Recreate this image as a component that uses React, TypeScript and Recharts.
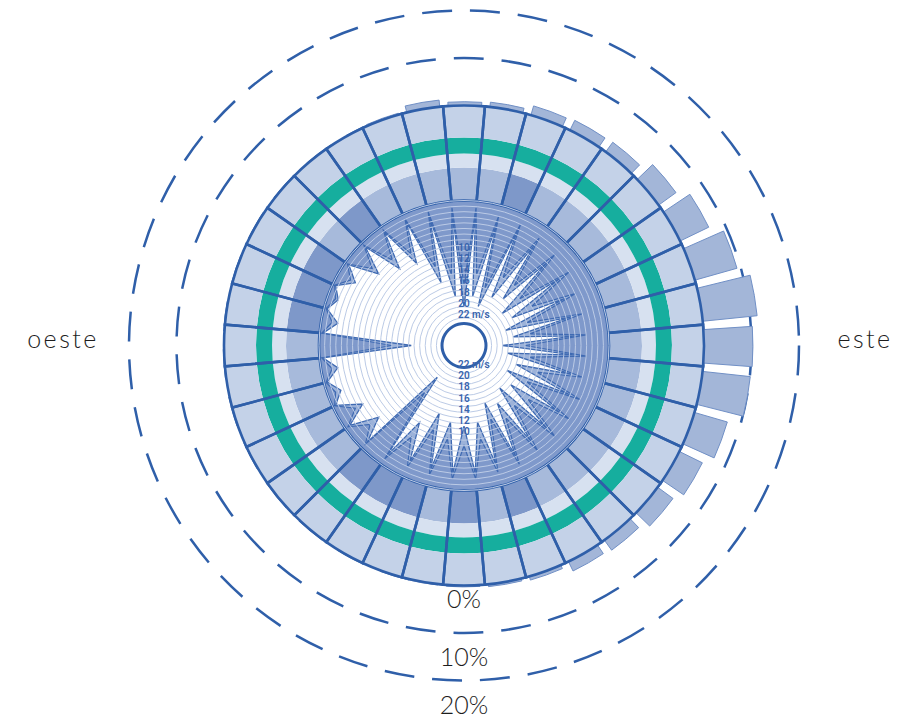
import React from "react";
import {
  RadialBarChart,
  RadialBar,
  PolarGrid,
  PolarAngleAxis,
  PolarRadiusAxis,
  PieChart,
  Pie,
  Cell,
  RadarChart,
  Radar,
} from "recharts";

// wind directions, degrees clockwise from north
const directions = [
  0, 10, 20, 30, 40, 50, 60, 70, 80, 90, 100, 110, 120, 130, 140, 150, 160, 170,
  180, 190, 200, 210, 220, 230, 240, 250, 260, 270, 280, 290, 300, 310, 320, 330, 340, 350,
];

// frequency of each direction (%)
const frequencyPct = [
  0.8, 1.0, 2.0, 2.3, 2.5, 4.5, 6.7, 9.2, 11.5, 10.3, 10.1, 7.2, 5.4, 4.0, 2.6, 2.2, 0.8, 0.5,
  0.3, 0.2, 0, 0, 0, 0, 0, 0, 0, 0, 0, 0, 0, 0, 0, 0, 0.3, 1.4,
];

// shade level of the inner band per direction
const bandLevel = [
  2, 2, 3, 2, 2, 2, 2, 2, 2, 2, 2, 2, 2, 2, 2, 2, 3, 2,
  3, 2, 3, 3, 3, 2, 2, 2, 2, 2, 3, 3, 3, 2, 3, 2, 2, 2,
];

// wind speed at each direction (m/s)
const maxSpeed = [
  19, 17, 18.5, 16, 15, 17, 16, 18, 17, 19, 18, 16, 17, 15, 16, 14, 15, 12,
  11.5, 12, 13, 10, 18.5, 6, 5, 2.5, 3, 16.5, 3, 2, 3.5, 6, 8, 9, 14, 17,
];
const meanSpeed = [
  15, 13, 15, 12, 12, 13, 12, 14, 14, 15, 14, 12, 13, 11, 12, 11, 12, 9,
  8, 9, 10, 7, 15, 4, 3.5, 1.5, 2, 13, 2, 1.5, 2.5, 4.5, 6, 7, 11, 13,
];
// wind speed between two directions (at direction + 5°)
const maxSpeedBetween = [
  2, 3, 3, 4, 5, 5, 6, 6, 6, 6, 6, 5, 5, 5, 5, 4, 4, 3,
  3, 3, 3, 2, 1.5, 1, 0.6, 0.6, 0.6, 0.6, 0.6, 0.6, 0.8, 1, 1.2, 1.5, 2, 2,
];
const meanSpeedBetween = [
  1.2, 2, 2, 2.5, 3, 3, 4, 4, 4, 4, 4, 3, 3, 3, 3, 2.5, 2.5, 2,
  2, 2, 2, 1.2, 1, 0.6, 0.4, 0.4, 0.4, 0.4, 0.4, 0.4, 0.5, 0.6, 0.8, 1, 1.2, 1.2,
];

const pctTicks = [0, 10, 20];
const speedGridTicks = [0, 1, 2, 3, 4, 5, 6, 7, 8, 9, 10, 11, 12, 13, 14, 15, 16, 17, 18, 19, 20, 21, 22];
const speedLabelTicks = [10, 12, 14, 16, 18, 20, 22];
const compassLabels = ["", "este", "", "oeste"];

// ---- tables built from the arrays ----
const barData = directions.map((d, i) => ({ dir: String(d), pct: frequencyPct[i] }));
const ringData = directions.map((d, i) => ({ dir: String(d), one: 1, level: bandLevel[i] }));
const discData = [{ name: "disc", one: 1 }];
const spikeData = directions.flatMap((d, i) => [
  { a: String(d), max: maxSpeed[i], mean: meanSpeed[i] },
  { a: String(d + 5), max: maxSpeedBetween[i], mean: meanSpeedBetween[i] },
]);
const compassData = compassLabels.map((label, i) => ({ id: i, v: 1 }));

// ---- layout / style ----
const W = 908;
const H = 721;
const CX = 464;
const CY = 345.5;
const M = { top: 0, right: 0, bottom: 0, left: 0 };
const DARK = "#2f5fa9";
const TEAL = "#16ae9e";
const CELL = "#c4d2e8";
const LIGHT_BAND = "#d7e1f0";
const SPIKE_DISC = "#7f99cb";
const SPIKE_MID = "#9cb2d9";
const levelColor = (l: number) => (l >= 3 ? "#7e98c9" : l === 2 ? "#a7badb" : "#b9c9e3");

const layer: React.CSSProperties = { position: "absolute", left: 0, top: 0 };

const PctTick = (props: any) => {
  const { x, y, payload } = props;
  const v = payload.value;
  return (
    <text
      x={x}
      y={y + (v === 0 ? 12 : 23)}
      textAnchor="middle"
      dominantBaseline="central"
      fontFamily="Lato, 'Open Sans', sans-serif"
      fontWeight={300}
      fontSize={25}
      fill="#1d1d1d"
    >
      {`${v}%`}
    </text>
  );
};

const speedText = (x: number, y: number, v: number) => (
  <text
    x={v === 22 ? x - 6 : x}
    y={y}
    textAnchor={v === 22 ? "start" : "middle"}
    dominantBaseline="central"
    fontFamily="Roboto, sans-serif"
    fontWeight={600}
    fontSize={10}
    fill="#3864ad"
  >
    {v === 22 ? "22 m/s" : String(v)}
  </text>
);

const TopSpeedTick = (props: any) => {
  const { x, y, payload } = props;
  if (!speedLabelTicks.includes(Number(payload.value))) return <g />;
  return speedText(x, y - 9, Number(payload.value));
};
const BottomSpeedTick = (props: any) => {
  const { x, y, payload } = props;
  if (!speedLabelTicks.includes(Number(payload.value))) return <g />;
  return speedText(x, y - 3, Number(payload.value));
};

const CompassTick = (props: any) => {
  const { x, y, payload } = props;
  const label = compassLabels[payload.value];
  if (!label) return <g />;
  return (
    <text
      x={x}
      y={y + 2}
      textAnchor="middle"
      fontFamily="Lato, 'Open Sans', sans-serif"
      fontWeight={300}
      fontSize={25}
      letterSpacing={2.5}
      fill="#1d1d1d"
    >
      {label}
    </text>
  );
};

export default function App() {
  return (
    <div style={{ position: "absolute", left: 0, top: 0, width: W, height: H, background: "#fff" }}>
      {/* outer frequency bars + dashed % circles */}
      <div style={layer}>
        <RadialBarChart
          width={W}
          height={H}
          cx={CX}
          cy={CY}
          margin={M}
          innerRadius={240}
          outerRadius={335}
          startAngle={85}
          endAngle={-275}
          layout="centric"
          data={barData}
          barCategoryGap="8%"
        >
          <PolarGrid gridType="circle" radialLines={false} stroke={DARK} strokeWidth={2.5} strokeDasharray="30 18" />
          <PolarAngleAxis type="category" dataKey="dir" tick={false} axisLine={false} tickLine={false} />
          <PolarRadiusAxis
            type="number"
            domain={[0, 20]}
            ticks={pctTicks}
            angle={-90}
            axisLine={false}
            tickLine={false}
            tick={PctTick}
          />
          <RadialBar dataKey="pct" fill="#a3b6d8" stroke="#7190c6" strokeWidth={1} isAnimationActive={false} />
        </RadialBarChart>
      </div>

      {/* rings */}
      <div style={layer}>
        <PieChart width={W} height={H} margin={M}>
          <Pie data={discData} dataKey="one" cx={CX} cy={CY} innerRadius={0} outerRadius={145} fill={SPIKE_DISC} stroke="none" isAnimationActive={false} />
          <Pie data={ringData} dataKey="one" cx={CX} cy={CY} innerRadius={145} outerRadius={178} startAngle={95} endAngle={-265} stroke="none" isAnimationActive={false}>
            {ringData.map((d, i) => (
              <Cell key={i} fill={levelColor(d.level)} />
            ))}
          </Pie>
          <Pie data={ringData} dataKey="one" cx={CX} cy={CY} innerRadius={178} outerRadius={192} startAngle={95} endAngle={-265} fill={LIGHT_BAND} stroke="none" isAnimationActive={false} />
          <Pie data={ringData} dataKey="one" cx={CX} cy={CY} innerRadius={192} outerRadius={208} startAngle={95} endAngle={-265} fill={TEAL} stroke="none" isAnimationActive={false} />
          <Pie data={ringData} dataKey="one" cx={CX} cy={CY} innerRadius={208} outerRadius={240} startAngle={95} endAngle={-265} fill={CELL} stroke="none" isAnimationActive={false} />
          <Pie data={ringData} dataKey="one" cx={CX} cy={CY} innerRadius={145} outerRadius={240} startAngle={95} endAngle={-265} fill="none" stroke={DARK} strokeWidth={2.6} isAnimationActive={false} />
        </PieChart>
      </div>

      {/* speed spikes */}
      <div style={layer}>
        <RadarChart width={W} height={H} cx={CX} cy={CY} margin={M} innerRadius={22} outerRadius={145} startAngle={90} endAngle={-270} data={spikeData}>
          <PolarAngleAxis dataKey="a" tick={false} axisLine={false} tickLine={false} />
          <PolarRadiusAxis domain={[0, 22]} reversed tick={false} axisLine={false} tickLine={false} />
          <Radar dataKey="mean" fill={SPIKE_MID} fillOpacity={1} stroke="#3f6ab2" strokeWidth={1.2} isAnimationActive={false} />
          <Radar dataKey="max" fill="#ffffff" fillOpacity={1} stroke="#3f6ab2" strokeWidth={1.3} isAnimationActive={false} />
        </RadarChart>
      </div>

      {/* speed grid + top labels */}
      <div style={layer}>
        <RadarChart width={W} height={H} cx={CX} cy={CY} margin={M} innerRadius={22} outerRadius={145} startAngle={90} endAngle={-270} data={spikeData}>
          <PolarGrid gridType="circle" radialLines={false} stroke="#bccbe6" strokeWidth={1} />
          <PolarAngleAxis dataKey="a" tick={false} axisLine={false} tickLine={false} />
          <PolarRadiusAxis domain={[0, 22]} reversed ticks={speedGridTicks} angle={90} axisLine={false} tickLine={false} tick={TopSpeedTick} />
          <Radar dataKey="max" fill="none" stroke="none" isAnimationActive={false} />
        </RadarChart>
      </div>

      {/* center disc */}
      <div style={layer}>
        <PieChart width={W} height={H} margin={M}>
          <Pie data={discData} dataKey="one" cx={CX} cy={CY} innerRadius={0} outerRadius={22} fill="#ffffff" stroke="none" isAnimationActive={false} />
          <Pie data={discData} dataKey="one" cx={CX} cy={CY} innerRadius={20.5} outerRadius={23.5} fill={DARK} stroke="none" isAnimationActive={false} />
        </PieChart>
      </div>

      {/* bottom speed labels */}
      <div style={layer}>
        <RadarChart width={W} height={H} cx={CX} cy={CY} margin={M} innerRadius={22} outerRadius={145} startAngle={90} endAngle={-270} data={spikeData}>
          <PolarAngleAxis dataKey="a" tick={false} axisLine={false} tickLine={false} />
          <PolarRadiusAxis domain={[0, 22]} reversed ticks={speedGridTicks} angle={-90} axisLine={false} tickLine={false} tick={BottomSpeedTick} />
          <Radar dataKey="max" fill="none" stroke="none" isAnimationActive={false} />
        </RadarChart>
      </div>

      {/* compass labels */}
      <div style={layer}>
        <RadarChart width={W} height={H} cx={CX} cy={CY} margin={M} outerRadius={393} startAngle={90} endAngle={-270} data={compassData}>
          <PolarAngleAxis dataKey="id" tick={CompassTick} axisLine={false} tickLine={false} tickSize={8} />
          <PolarRadiusAxis domain={[0, 1]} tick={false} axisLine={false} tickLine={false} />
          <Radar dataKey="v" fill="none" stroke="none" isAnimationActive={false} />
        </RadarChart>
      </div>
    </div>
  );
}
